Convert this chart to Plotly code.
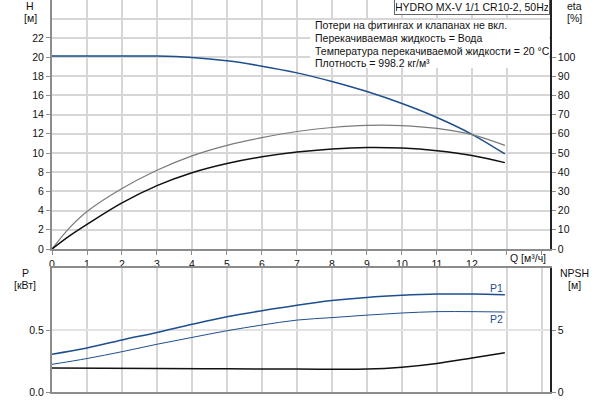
import plotly.graph_objects as go

# ---------------- data ----------------
q_h = [0, 1, 2, 3, 4, 5, 6, 7, 8, 9, 10, 11, 12, 12.94]
head = [20.1, 20.1, 20.1, 20.1, 19.95, 19.6, 19.05, 18.35, 17.45, 16.4, 15.15, 13.7, 11.95, 9.9]

q_eta = [0, 0.5, 1, 2, 3, 4, 5, 6, 7, 8, 9, 10, 11, 12, 12.94]
eta_pump = [0, 11, 19.5, 31.5, 41, 48.5, 54, 58, 61.2, 63.3, 64.4, 64.3, 62.8, 59.6, 54]
eta_total = [0, 6.8, 12.8, 24, 33, 39.7, 44.5, 48, 50.5, 52.1, 52.9, 52.6, 51.2, 48.7, 45]

q_p = [0, 1, 2, 3, 4, 5, 6, 7, 8, 9, 10, 11, 12, 12.94]
p1 = [0.305, 0.355, 0.42, 0.48, 0.546, 0.607, 0.656, 0.70, 0.737, 0.763, 0.78, 0.79, 0.79, 0.785]
p2 = [0.223, 0.27, 0.325, 0.385, 0.44, 0.494, 0.54, 0.58, 0.60, 0.62, 0.637, 0.648, 0.648, 0.645]

q_npsh = [0, 3, 5, 7, 9, 10, 11, 12, 12.94]
npsh = [1.94, 1.9, 1.87, 1.85, 1.85, 2.0, 2.3, 2.74, 3.17]

x_ticks = list(range(0, 14))
x_labels = [str(v) for v in range(0, 13)] + [""]
h_ticks = list(range(0, 23, 2))
eta_ticks = list(range(0, 101, 10))

title_text = "HYDRO MX-V 1/1 CR10-2, 50Hz"
info_lines = [
    "Потери на фитингах и клапанах не вкл.",
    "Перекачиваемая жидкость = Вода",
    "Температура перекачиваемой жидкости = 20 °C",
    "Плотность = 998.2 кг/м³",
]

# ---------------- figure ----------------
W, H = 600, 400
FONT = "Liberation Sans, Arial, sans-serif"
BLUE = "#1d4f8e"
GRID = "#d6d6d6"
AX = "#8c8c8c"
FS = 10.5


def px(x):
    return x / W


def py(y):
    return 1 - y / H


fig = go.Figure()

fig.add_trace(go.Scatter(x=q_eta, y=eta_pump, xaxis="x", yaxis="y2", mode="lines",
                         line=dict(color="#7a7a7a", width=1.2, shape="spline")))
fig.add_trace(go.Scatter(x=q_eta, y=eta_total, xaxis="x", yaxis="y2", mode="lines",
                         line=dict(color="#111111", width=1.5, shape="spline")))
fig.add_trace(go.Scatter(x=q_h, y=head, xaxis="x", yaxis="y", mode="lines",
                         line=dict(color=BLUE, width=1.5, shape="spline")))

fig.add_trace(go.Scatter(x=q_p, y=p1, xaxis="x2", yaxis="y3", mode="lines",
                         line=dict(color=BLUE, width=1.5, shape="spline")))
fig.add_trace(go.Scatter(x=q_p, y=p2, xaxis="x2", yaxis="y3", mode="lines",
                         line=dict(color=BLUE, width=1.0, shape="spline")))
fig.add_trace(go.Scatter(x=q_npsh, y=npsh, xaxis="x2", yaxis="y4", mode="lines",
                         line=dict(color="#111111", width=1.5, shape="spline")))

xdom = [px(52), px(550)]
tick_font = dict(family=FONT, size=FS, color="#111111")

fig.update_layout(
    width=W, height=H, autosize=False,
    margin=dict(l=0, r=0, t=0, b=0, autoexpand=False),
    paper_bgcolor="white", plot_bgcolor="white",
    showlegend=False,
    font=dict(family=FONT, size=FS, color="#111111"),
    xaxis=dict(domain=xdom, range=[0, 14.23], anchor="y", automargin=False,
               tickmode="array", tickvals=x_ticks, ticktext=x_labels,
               ticks="outside", ticklen=4, tickcolor=AX, tickfont=tick_font,
               showgrid=True, gridcolor=GRID, gridwidth=1.5,
               showline=True, linecolor=AX, linewidth=2, mirror=True,
               zeroline=False,
               minor=dict(tickmode="array", tickvals=[14], ticks="outside",
                          ticklen=4, tickcolor=AX, showgrid=False)),
    yaxis=dict(domain=[py(249), 1], range=[0, 25.94], anchor="x", automargin=False,
               tickmode="array", tickvals=h_ticks,
               ticks="outside", ticklen=4, tickcolor=AX, tickfont=tick_font,
               showgrid=True, gridcolor=GRID, gridwidth=1.5,
               showline=True, linecolor=AX, linewidth=2,
               zeroline=False,
               minor=dict(tickmode="array", tickvals=[24], ticks="",
                          showgrid=True, gridcolor=GRID, gridwidth=1.5)),
    yaxis2=dict(overlaying="y", side="right", anchor="x", range=[0, 129.7], automargin=False,
                tickmode="array", tickvals=eta_ticks,
                ticks="outside", ticklen=4, tickcolor=AX, tickfont=tick_font,
                showgrid=False, showline=True, linecolor="#222222", linewidth=1.5,
                zeroline=False),
    xaxis2=dict(domain=xdom, range=[0, 14.23], anchor="y3", matches="x", automargin=False,
                tickmode="array", tickvals=list(range(0, 15)),
                showticklabels=False, ticks="",
                showgrid=True, gridcolor=GRID, gridwidth=1.5,
                showline=True, linecolor=AX, linewidth=2, mirror=True,
                zeroline=False),
    yaxis3=dict(domain=[py(392), py(268)], range=[0, 1.0], anchor="x2", automargin=False,
                tickmode="array", tickvals=[0, 0.5], ticktext=["0.0", "0.5"],
                ticks="outside", ticklen=4, tickcolor=AX, tickfont=tick_font,
                showgrid=True, gridcolor="#e2e2e2", gridwidth=1.5,
                showline=True, linecolor=AX, linewidth=2,
                zeroline=False),
    yaxis4=dict(overlaying="y3", side="right", anchor="x2", range=[0, 10], automargin=False,
                tickmode="array", tickvals=[0, 5],
                ticks="outside", ticklen=4, tickcolor=AX, tickfont=tick_font,
                showgrid=False, showline=True, linecolor="#222222", linewidth=1.5,
                zeroline=False),
)

# info box background
fig.add_shape(type="rect", xref="paper", yref="paper",
              x0=px(310), x1=px(549), y0=py(68), y1=py(20),
              fillcolor="white", line=dict(width=0), layer="above")

ann = []


def label(text, x, y, xanchor="center", size=FS, color="#111111", **kw):
    ann.append(dict(text=text, x=px(x), y=py(y), xref="paper", yref="paper",
                    xanchor=xanchor, yanchor="middle", showarrow=False,
                    font=dict(family=FONT, size=size, color=color), **kw))


label("H", 30, 6)
label("[м]", 30, 18)
label("eta", 574, 6)
label("[%]", 574, 18)
label("P", 25, 273)
label("[кВт]", 25, 285)
label("NPSH", 574, 273)
label("[м]", 574, 285)
label("Q [м³/ч]", 528, 258)
label("P1", 496, 288, color=BLUE)
label("P2", 496, 319, color=BLUE)

for i, line in enumerate(info_lines):
    label(line, 313, 25 + i * 12.8, xanchor="left")

ann.append(dict(text=title_text, x=px(550), y=py(7), xref="paper", yref="paper",
                xanchor="right", yanchor="middle", showarrow=False,
                width=152, align="center", bgcolor="white",
                bordercolor="#666666", borderwidth=1, borderpad=1,
                font=dict(family=FONT, size=FS, color="#111111")))

fig.update_layout(annotations=ann)

fig.write_html("out.html",
               config={"displayModeBar": False},
               post_script="document.body.style.margin='0';document.body.style.overflow='hidden';")
